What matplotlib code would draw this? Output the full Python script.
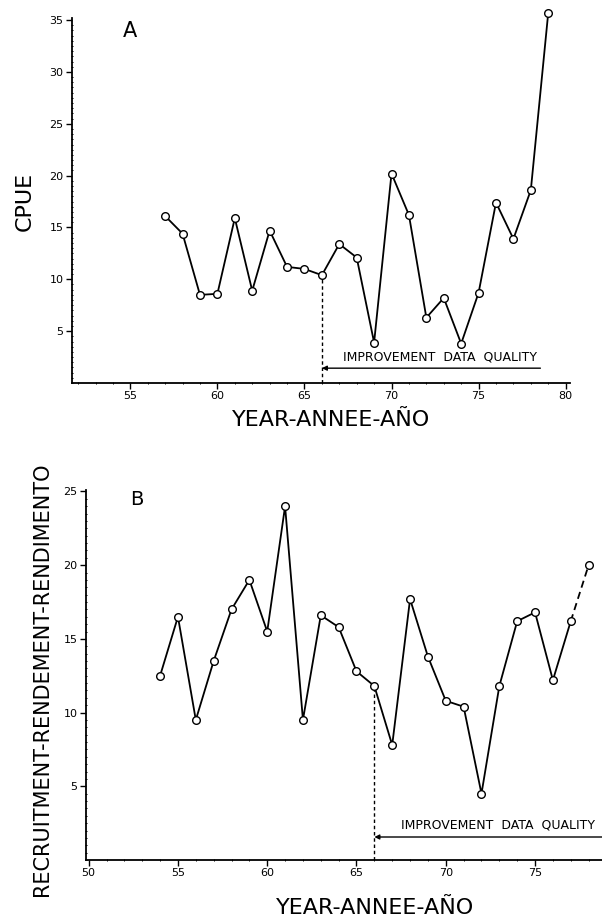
import matplotlib
matplotlib.use("Agg")
import matplotlib.pyplot as plt
from matplotlib.ticker import MultipleLocator

# ---- data ----
years_a = list(range(57, 80))
cpue = [16.1, 14.4, 8.5, 8.6, 15.9, 8.9, 14.7, 11.2, 11.0, 10.4, 13.4, 12.1,
        3.9, 20.2, 16.2, 6.3, 8.2, 3.8, 8.7, 17.4, 13.9, 18.6, 35.7]

years_b = list(range(54, 79))
recruit = [12.5, 16.5, 9.5, 13.5, 17.0, 19.0, 15.5, 24.0, 9.5, 16.6, 15.8,
           12.8, 11.8, 7.8, 17.7, 13.8, 10.8, 10.4, 4.5, 11.8, 16.2, 16.8,
           12.2, 16.2, 20.0]

quality_year = 66
xticks_a = [55, 60, 65, 70, 75, 80]
yticks_a = [5, 10, 15, 20, 25, 30, 35]
xticks_b = [50, 55, 60, 65, 70, 75]
yticks_b = [5, 10, 15, 20, 25]
note = "IMPROVEMENT  DATA  QUALITY"

plt.rcParams['font.family'] = ['DejaVu Sans']

W, H = 602, 921
fig = plt.figure(figsize=(W / 100, H / 100), dpi=100)
fig.patch.set_facecolor('white')


def style_axes(ax, xticks, yticks):
    for s in ('top', 'right'):
        ax.spines[s].set_visible(False)
    for s in ('left', 'bottom'):
        ax.spines[s].set_linewidth(1.3)
    ax.set_xticks(xticks)
    ax.set_yticks(yticks)
    ax.xaxis.set_minor_locator(MultipleLocator(1))
    ax.yaxis.set_minor_locator(MultipleLocator(0.5))
    ax.tick_params(axis='both', which='major', labelsize=8, length=4,
                   width=1, direction='out', pad=2)
    ax.tick_params(axis='both', which='minor', length=2, width=0.7,
                   direction='inout')
    ax.set_facecolor('none')


# ---- panel A ----
axA = fig.add_axes([72 / W, 1 - 383 / H, (570 - 72) / W, (383 - 18) / H])
axA.set_xlim(51.65, 80.25)
axA.set_ylim(0, 35.2)
style_axes(axA, xticks_a, yticks_a)
axA.plot(years_a, cpue, color='black', lw=1.3, marker='o', ms=5.5,
         mfc='white', mec='black', mew=1.0, zorder=3, clip_on=False)
qa = cpue[years_a.index(quality_year)]
axA.plot([quality_year, quality_year], [0, qa], ls=(0, (2.5, 2)),
         color='black', lw=1.0, zorder=2)
axA.annotate('', xy=(quality_year, 1.43), xytext=(78.55, 1.43),
             arrowprops=dict(arrowstyle='-|>', lw=1.0, color='black',
                             mutation_scale=7, shrinkA=0, shrinkB=0))
axA.text(72.8, 1.9, note, ha='center', va='bottom', fontsize=9)
axA.text(55.0, 33.9, 'A', ha='center', va='center', fontsize=15)
fig.text(25 / W, 1 - 201 / H, 'CPUE', rotation=90, ha='center',
         va='center', fontsize=16)
fig.text(331 / W, 1 - 420 / H, 'YEAR-ANNEE-AÑO', ha='center', va='center',
         fontsize=16)

# ---- panel B ----
axB = fig.add_axes([86 / W, 1 - 860 / H, (W - 86) / W, (860 - 490) / H])
axB.set_xlim(49.85, 78.75)
axB.set_ylim(0, 25.1)
style_axes(axB, xticks_b, yticks_b)
axB.plot(years_b[:-1], recruit[:-1], color='black', lw=1.3, marker='o',
         ms=5.5, mfc='white', mec='black', mew=1.0, zorder=3)
axB.plot(years_b[-2:], recruit[-2:], color='black', lw=1.3,
         ls=(0, (4, 2.5)), zorder=2)
axB.plot(years_b[-1:], recruit[-1:], ls='none', marker='o', ms=5.5,
         mfc='white', mec='black', mew=1.0, zorder=3)
qb = recruit[years_b.index(quality_year)]
axB.plot([quality_year, quality_year], [0, qb], ls=(0, (2.5, 2)),
         color='black', lw=1.0, zorder=2)
axB.annotate('', xy=(quality_year, 1.56), xytext=(78.75, 1.56),
             arrowprops=dict(arrowstyle='-|>', lw=1.0, color='black',
                             mutation_scale=7, shrinkA=0, shrinkB=0))
axB.text(72.9, 1.95, note, ha='center', va='bottom', fontsize=9)
axB.text(52.7, 24.45, 'B', ha='center', va='center', fontsize=14)
fig.text(42 / W, 1 - 679 / H, 'RECRUITMENT-RENDEMENT-RENDIMENTO',
         rotation=90, ha='center', va='center', fontsize=15)
fig.text(375 / W, 1 - 908 / H, 'YEAR-ANNEE-AÑO', ha='center', va='center',
         fontsize=16)

fig.savefig('out.png', dpi=100, facecolor='white')
